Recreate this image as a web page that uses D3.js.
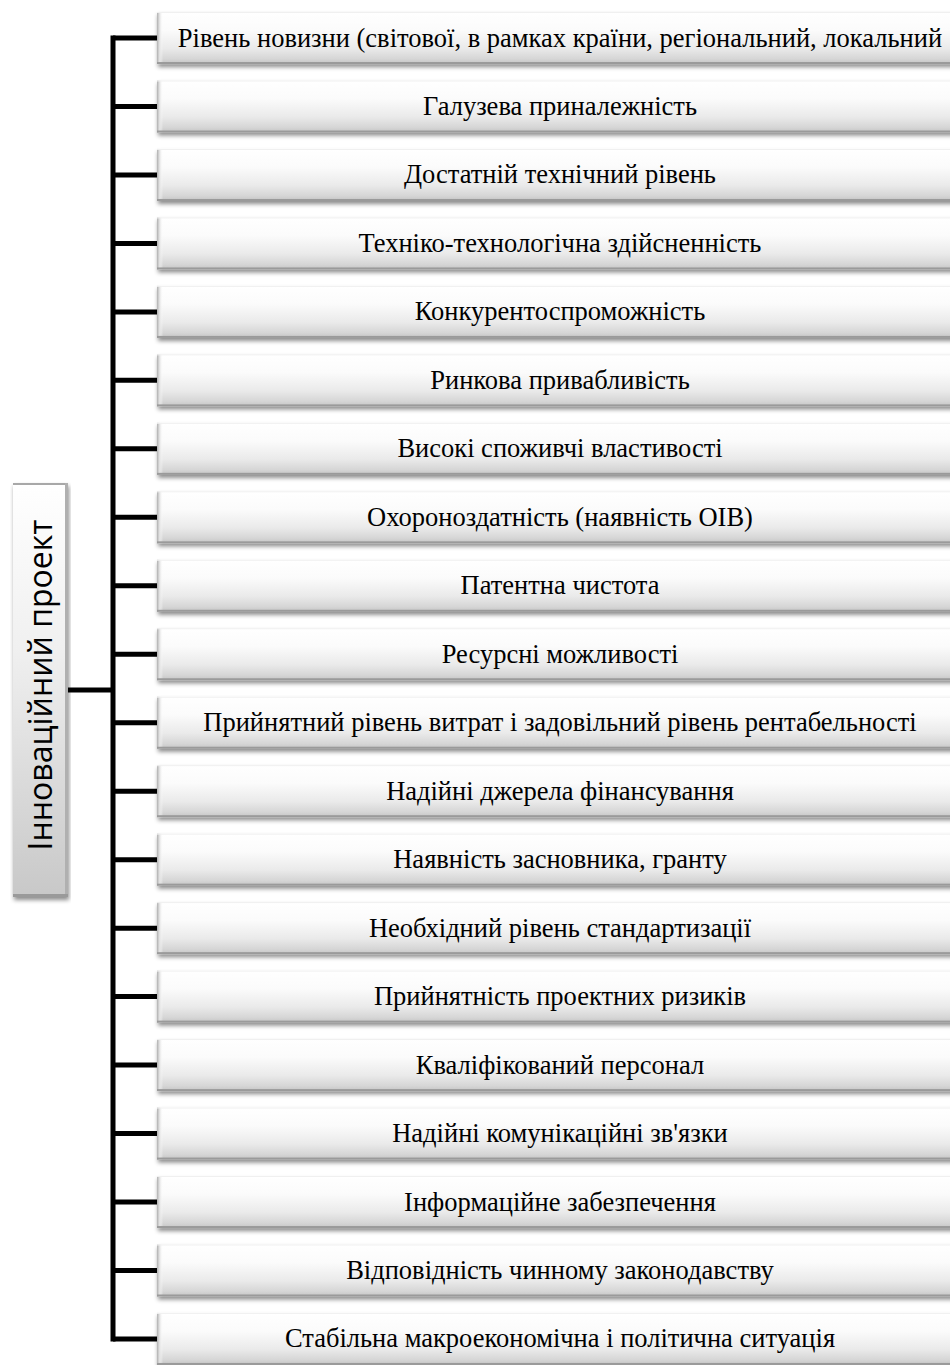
<!DOCTYPE html>
<html><head><meta charset="utf-8">
<script src="https://cdn.jsdelivr.net/npm/d3@7"></script>
<style>html,body{margin:0;padding:0;background:#fff;}svg{display:block;}</style>
</head><body>
<script>
const rootLabel = "Інноваційний проект";
const items = [
  "Рівень новизни (світової, в рамках країни, регіональний, локальний",
  "Галузева приналежність",
  "Достатній технічний рівень",
  "Техніко-технологічна здійсненність",
  "Конкурентоспроможність",
  "Ринкова привабливість",
  "Високі споживчі властивості",
  "Охороноздатність (наявність ОІВ)",
  "Патентна чистота",
  "Ресурсні можливості",
  "Прийнятний рівень витрат і задовільний рівень рентабельності",
  "Надійні джерела фінансування",
  "Наявність засновника, гранту",
  "Необхідний рівень стандартизації",
  "Прийнятність проектних ризиків",
  "Кваліфікований персонал",
  "Надійні комунікаційні зв'язки",
  "Інформаційне забезпечення",
  "Відповідність чинному законодавству",
  "Стабільна макроекономічна і політична ситуація"
];

const W = 950, H = 1365;
const svg = d3.select("body").append("svg").attr("width", W).attr("height", H);
const defs = svg.append("defs");

const g1 = defs.append("linearGradient").attr("id","boxGrad").attr("x1",0).attr("y1",0).attr("x2",0).attr("y2",1);
[[0,"#ffffff"],[0.35,"#fbfbfb"],[0.7,"#eaeaea"],[0.9,"#d6d6d6"],[1,"#c4c4c4"]].forEach(([o,c])=>g1.append("stop").attr("offset",o).attr("stop-color",c));
const g2 = defs.append("linearGradient").attr("id","rootGrad").attr("x1",0).attr("y1",0).attr("x2",0).attr("y2",1);
[[0,"#ffffff"],[0.4,"#f0f0f0"],[1,"#c8c8c8"]].forEach(([o,c])=>g2.append("stop").attr("offset",o).attr("stop-color",c));
const g3 = defs.append("linearGradient").attr("id","leftEdge").attr("x1",0).attr("y1",0).attr("x2",1).attr("y2",0);
[[0,"#b0b0b0"],[0.4,"#e0e0e0"],[1,"#ffffff"]].forEach(([o,c])=>g3.append("stop").attr("offset",o).attr("stop-color",c).attr("stop-opacity", o===1?0:1));
const f = defs.append("filter").attr("id","shadow").attr("x","-5%").attr("y","-20%").attr("width","110%").attr("height","160%");
f.append("feDropShadow").attr("dx",1).attr("dy",3).attr("stdDeviation",2.2).attr("flood-color","#000").attr("flood-opacity",0.45);

const step = 68.47, pad = 0.24;
const y = d3.scaleBand().domain(d3.range(items.length)).range([12, 12 + step*(items.length - pad)]).paddingInner(pad).paddingOuter(0);
const boxX = 157, boxW = 810, spineX = 113;
const rootX = 13, rootY = 483, rootW = 55, rootH = 414;

// connectors
const lines = svg.append("g").attr("stroke","#000").attr("stroke-width",5).attr("fill","none");
const first = y(0)+y.bandwidth()/2, last = y(items.length-1)+y.bandwidth()/2;
lines.append("line").attr("x1",spineX).attr("x2",spineX).attr("y1",first-2.5).attr("y2",last+2.5);
lines.selectAll(".h").data(items).join("line").attr("class","h")
  .attr("x1",spineX).attr("x2",boxX+1).attr("y1",(d,i)=>y(i)+y.bandwidth()/2).attr("y2",(d,i)=>y(i)+y.bandwidth()/2);
lines.append("line").attr("x1",rootX+rootW).attr("x2",spineX).attr("y1",690).attr("y2",690);

// boxes
const bx = svg.append("g").selectAll("g").data(items).join("g").attr("transform",(d,i)=>`translate(${boxX},${y(i)})`);
const bh = y.bandwidth();
bx.append("rect").attr("width",boxW).attr("height",bh).attr("fill","url(#boxGrad)").attr("filter","url(#shadow)");
bx.append("rect").attr("width",6).attr("height",bh).attr("fill","url(#leftEdge)");
bx.append("rect").attr("y",bh-2).attr("width",boxW).attr("height",2).attr("fill","#9a9a9a");
bx.append("rect").attr("y",0).attr("width",boxW).attr("height",1).attr("fill","#f0f0f0");
bx.append("text").attr("x",560-boxX).attr("y",bh/2+8.5).attr("text-anchor","middle")
  .attr("font-family","'Liberation Serif','Times New Roman',serif").attr("font-size",26.5).attr("fill","#000").text(d=>d);

// root
const rg = svg.append("g");
rg.append("rect").attr("x",rootX).attr("y",rootY).attr("width",rootW).attr("height",rootH).attr("fill","url(#rootGrad)").attr("filter","url(#shadow)");
rg.append("rect").attr("x",rootX).attr("y",rootY).attr("width",rootW).attr("height",2).attr("fill","#a8a8a8");
rg.append("rect").attr("x",rootX+rootW-3).attr("y",rootY).attr("width",3).attr("height",rootH).attr("fill","#b0b0b0");
rg.append("rect").attr("x",rootX).attr("y",rootY+rootH-3).attr("width",rootW).attr("height",3).attr("fill","#9a9a9a");
rg.append("text").attr("transform",`translate(${rootX+rootW/2+11},${rootY+rootH/2-5}) rotate(-90)`)
  .attr("text-anchor","middle").attr("font-family","'Open Sans','Liberation Sans',sans-serif").attr("font-size",32).attr("fill","#000").text(rootLabel);
</script>
</body></html>
